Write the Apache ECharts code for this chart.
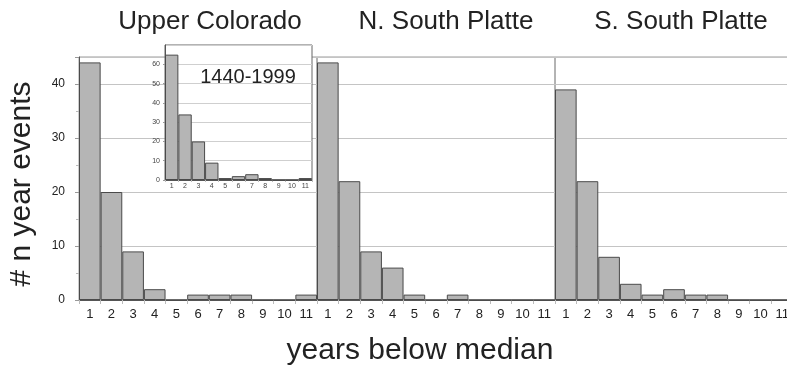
<!DOCTYPE html>
<html><head><meta charset="utf-8">
<script src="https://cdn.jsdelivr.net/npm/echarts@6/dist/echarts.min.js"></script>
<style>html,body{margin:0;padding:0;background:#fff}#c{width:787px;height:369px}</style>
</head><body><div id="c"></div>
<script>
// ---- data ----
const categories = ['1','2','3','4','5','6','7','8','9','10','11'];
const upperColorado = [44, 20, 9, 2, 0, 1, 1, 1, 0, 0, 1];
const nSouthPlatte = [44, 22, 9, 6, 1, 0, 1, 0, 0, 0, 0];
const sSouthPlatte = [39, 22, 8, 3, 1, 2, 1, 1, 0, 0, 0];
const upperColorado1440 = [65, 34, 20, 9, 1, 2, 3, 1, 0, 0, 1];
const panelTitles = ['Upper Colorado', 'N. South Platte', 'S. South Platte'];
const insetTitle = '1440-1999';
const yTitle = '# n year events';
const xTitle = 'years below median';
const mainYMax = 45, mainYInterval = 10;
const insetYMax = 70, insetYInterval = 10;

// ---- styling ----
const FONT = 'Liberation Sans, Arial, sans-serif';
const NARROW = 'Liberation Sans Narrow, Liberation Sans, Arial, sans-serif';
const TXT = '#222';
const barStyle = {color: '#b5b5b5', borderColor: '#4a4a4a', borderWidth: 1};
const panels = [upperColorado, nSouthPlatte, sSouthPlatte];
const panelLefts = [79, 317, 555];
const titleCenters = [210, 446, 681];

const grids = panelLefts.map(l => ({
  left: l, top: 57, width: 238, height: 243, outerBoundsMode: 'none', containLabel: false,
  show: true, borderColor: '#9a9a9a', borderWidth: 1, backgroundColor: 'transparent'
}));
grids.push({left: 165, top: 45, width: 147, height: 135, show: true, outerBoundsMode: 'none', containLabel: false,
  backgroundColor: '#fff', borderColor: '#666', borderWidth: 1, z: 3});

const xAxes = panels.map((_, i) => ({
  type: 'category', gridIndex: i, data: categories,
  axisLine: {lineStyle: {color: '#555', width: 1}},
  axisTick: {show: true, length: 4, lineStyle: {color: '#bbb'}},
  axisLabel: {color: TXT, fontSize: 13, fontFamily: NARROW, margin: 8, interval: 0}
}));
xAxes.push({
  type: 'category', gridIndex: 3, data: categories, z: 4,
  axisLine: {lineStyle: {color: '#555', width: 1}},
  axisTick: {show: true, length: 2, lineStyle: {color: '#bbb'}},
  axisLabel: {color: '#444', fontSize: 7, fontFamily: FONT, margin: 3, interval: 0}
});

const yAxes = panels.map((_, i) => ({
  type: 'value', gridIndex: i, min: 0, max: mainYMax, interval: mainYInterval,
  axisLine: {show: i === 0, lineStyle: {color: '#555'}},
  axisTick: {show: i === 0, length: 4, lineStyle: {color: '#999'}},
  minorTick: {show: i === 0, splitNumber: 2, length: 3, lineStyle: {color: '#bbb'}},
  axisLabel: {show: i === 0, color: TXT, fontSize: 12, fontFamily: NARROW, margin: 14, showMaxLabel: false},
  splitLine: {show: true, lineStyle: {color: '#c4c4c4', width: 1}}
}));
yAxes.push({
  type: 'value', gridIndex: 3, min: 0, max: insetYMax, interval: insetYInterval, z: 4,
  axisLine: {show: true, lineStyle: {color: '#555'}},
  axisTick: {show: true, length: 2, lineStyle: {color: '#999'}},
  axisLabel: {color: '#444', fontSize: 7, fontFamily: FONT, margin: 5, showMaxLabel: false},
  splitLine: {show: true, lineStyle: {color: '#cfcfcf', width: 1}}
});

const series = panels.map((d, i) => ({
  type: 'bar', xAxisIndex: i, yAxisIndex: i, data: d,
  barCategoryGap: '0%', itemStyle: barStyle, silent: true
}));
series.push({type: 'bar', xAxisIndex: 3, yAxisIndex: 3, data: upperColorado1440, z: 5,
  barCategoryGap: '0%', itemStyle: {color: '#b5b5b5', borderColor: '#4a4a4a', borderWidth: 1}, silent: true});

const graphics = panelTitles.map((t, i) => ({
  type: 'text', x: titleCenters[i], y: 22, z: 10,
  style: {text: t, fill: TXT, font: '26px ' + FONT, textAlign: 'center', textVerticalAlign: 'middle'}
}));
graphics.push({type: 'text', x: 248, y: 77, z: 10,
  style: {text: insetTitle, fill: TXT, font: '20px ' + FONT, textAlign: 'center', textVerticalAlign: 'middle'}});
graphics.push({type: 'text', x: 420, y: 351, z: 10,
  style: {text: xTitle, fill: TXT, font: '30px ' + FONT, textAlign: 'center', textVerticalAlign: 'middle'}});
graphics.push({type: 'text', x: 22, y: 184, rotation: Math.PI / 2, z: 10,
  style: {text: yTitle, fill: TXT, font: '30px ' + FONT, textAlign: 'center', textVerticalAlign: 'middle'}});

const chart = echarts.init(document.getElementById('c'), null, {renderer: 'canvas'});
chart.setOption({
  animation: false,
  backgroundColor: '#fff',
  grid: grids, xAxis: xAxes, yAxis: yAxes, series: series, graphic: graphics
});
</script></body></html>
